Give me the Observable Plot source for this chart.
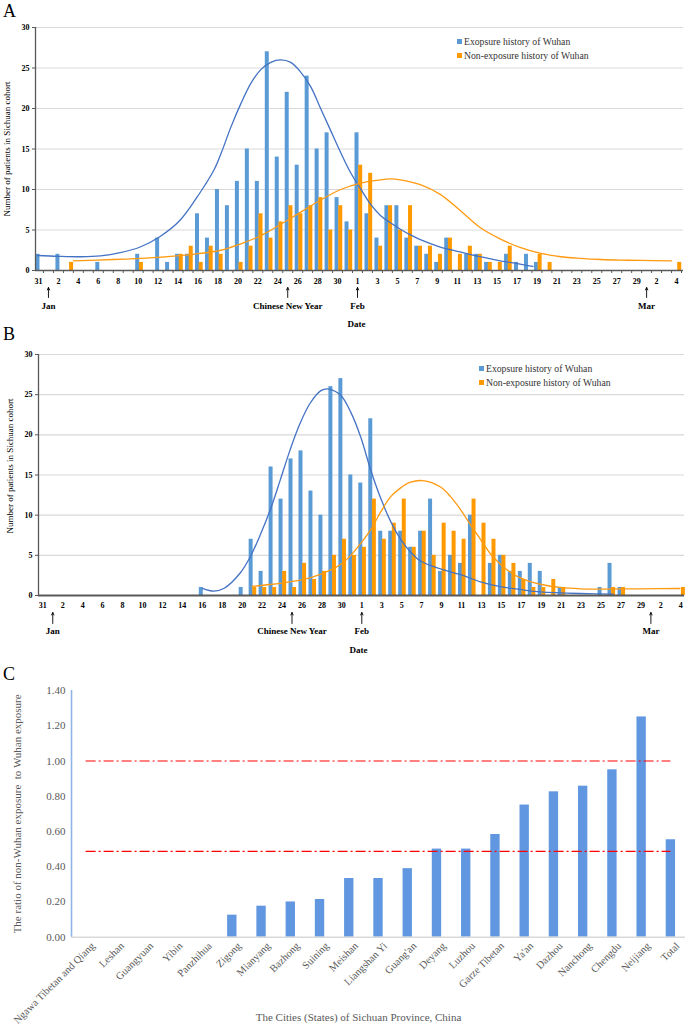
<!DOCTYPE html>
<html><head><meta charset="utf-8">
<script src="https://cdn.jsdelivr.net/npm/d3@7"></script>
<script src="https://cdn.jsdelivr.net/npm/@observablehq/plot@0.6"></script>
<style>
body{margin:0;background:#fff;}
#wrap{position:relative;width:685px;height:1028px;overflow:hidden;font-family:"Liberation Serif","Times New Roman",serif;}
#wrap svg{position:absolute;left:0;}
.letter{position:absolute;font-size:18px;color:#000;line-height:1;}
.leg{position:absolute;font-size:9.7px;color:#333;line-height:14px;white-space:nowrap;}
.leg span.sw{display:inline-block;width:5px;height:5px;margin-right:2px;vertical-align:1px;}
</style></head><body><div id="wrap"></div>
<script>
// ---------- DATA ----------
// day offsets: 0 = Dec 31 2019 ... 64 = Mar 4 2020
const dayIndex = d3.range(0, 65);
const labelDays = d3.range(0, 65, 2);
const yTicksCount = [0, 5, 10, 15, 20, 25, 30];
const eventDays = [1, 25, 32, 61];
const eventLabels = ["Jan", "Chinese New Year", "Feb", "Mar"];
const seriesNames = ["Exopsure history of Wuhan", "Non-exposure history of Wuhan"];

// Panel A counts
const blueA = [2,0,2,0,0,0,1,0,0,0, 2,0,4,1,2,2,7,4,10,8, 11,15,11,27,14,22,13,24,15,17, 9,6,17,7,4,8,8,4,3,2, 1,4,0,2,2,1,0,2,1,2, 1,0,0,0,0,0,0,0,0,0, 0,0,0,0,0];
const orangeA = [0,0,0,1,0,0,0,0,0,0, 1,0,0,0,2,3,1,3,2,0, 1,3,7,4,6,8,7,8,9,5, 8,5,13,12,3,8,5,8,3,3, 2,4,2,3,2,1,1,3,0,0, 2,1,0,0,0,0,0,0,0,0, 0,0,0,0,1];
// Panel A fitted curves [day, value]
const blueCurveA = [[-0.1,1.85],[2,1.75],[4.2,1.7],[6.2,1.8],[8.2,2.2],[10.2,2.9],[12.2,4.2],[14.2,6.2],[16.2,9.6],[17.6,12.4],[18.3,14.4],[19.3,17.7],[20.3,20.6],[21.3,23.1],[22.3,24.8],[23.3,25.7],[24.3,26.0],[25.3,25.7],[26.3,24.5],[27.3,22.7],[28.3,20.0],[29.3,17.3],[30.3,14.6],[31.3,12.1],[32.3,10.1],[33.3,8.2],[34.3,6.8],[35.3,5.9],[36.3,5.1],[37.3,4.4],[38.3,3.8],[40.3,2.9],[42.3,2.3],[44.3,1.7],[46.3,1.2],[48.3,0.8],[49.6,0.5]];
const orangeCurveA = [[3.5,1.2],[7.5,1.36],[11.5,1.6],[15.5,2.0],[18.3,2.5],[20.3,3.3],[22.3,4.3],[24.3,5.7],[26.3,7.2],[28.3,8.7],[30.3,10.0],[32.3,10.8],[34.3,11.2],[35.3,11.3],[36.3,11.2],[38.3,10.6],[40.3,9.4],[42.3,7.4],[44.3,5.3],[46.3,3.9],[48.3,2.85],[50.4,2.1],[52.4,1.7],[54.4,1.5],[56.4,1.36],[58.4,1.28],[60.4,1.24],[63.5,1.2]];

// Panel B counts
const blueB = [0,0,0,0,0,0,0,0,0,0, 0,0,0,0,0,0,1,0,0,0, 1,7,3,16,12,17,18,13,10,26, 27,15,14,22,8,8,8,6,8,12, 3,5,4,10,0,4,5,3,3,4, 3,0,1,0,0,0,1,4,1,0, 0,0,0,0,0];
const orangeB = [0,0,0,0,0,0,0,0,0,0, 0,0,0,0,0,0,0,0,0,0, 0,1,1,1,3,1,4,2,3,5, 7,5,6,12,7,9,12,6,8,5, 9,8,7,12,9,7,5,4,2,1, 1,2,1,0,0,0,0,1,1,0, 0,0,0,0,1];
const blueCurveB = [[16,0.9],[17.2,0.55],[18.2,0.9],[19.8,2.8],[20.8,4.8],[21.8,7.5],[22.8,10.6],[23.8,14.3],[24.8,18.1],[25.8,21.4],[26.8,23.9],[27.9,25.5],[28.7,25.7],[29.9,24.9],[30.9,22.8],[31.9,19.7],[32.9,15.6],[33.9,12.1],[34.9,9.2],[35.9,7.0],[36.9,5.4],[37.9,4.3],[39.9,3.3],[41.9,2.6],[43.9,1.7],[45.9,1.1],[47.9,0.75],[49.9,0.45],[51.9,0.33],[53.9,0.25],[57.2,0.17]];
const orangeCurveB = [[21.0,1.15],[22.8,1.37],[24.8,1.7],[26.8,2.2],[28.9,3.2],[29.9,3.9],[30.9,5.0],[31.9,6.5],[32.9,8.2],[33.9,10.4],[34.9,12.3],[35.9,13.4],[36.9,14.1],[38.1,14.3],[39.9,13.5],[40.9,12.3],[41.9,10.7],[42.9,8.8],[43.9,7.0],[44.9,5.2],[45.9,3.9],[46.9,2.9],[47.9,2.2],[49.9,1.4],[51.9,1.0],[53.9,0.83],[55.9,0.8],[59.9,0.83],[63.9,0.87]];

// Panel C
const cities = ["Ngawa Tibetan and Qiang","Leshan","Guangyuan","Yibin","Panzhihua","Zigong","Mianyang","Bazhong","Suining","Meishan","Liangshan Yi","Guang'an","Deyang","Luzhou","Garze Tibetan","Ya'an","Dazhou","Nanchong","Chengdu","Neijiang","Total"];
const ratios = [0,0,0,0,0,0.125,0.176,0.2,0.214,0.333,0.333,0.389,0.5,0.5,0.583,0.75,0.825,0.857,0.95,1.25,0.553];
const refLines = [1.0, 0.487];
const yTicksC = [0, 0.2, 0.4, 0.6, 0.8, 1.0, 1.2, 1.4];

// ---------- STYLE ----------
const FONT = '"Liberation Serif","Times New Roman",serif';
const BLUE = "#5b9bd5", ORANGE = "#ff9900", BLUE_LINE = "#4472c4", ORANGE_LINE = "#ff9a10", AXIS = "#595959";
const dayLabel = d => String(new Date(2019, 11, 31 + d).getDate());

function timeline(o) {
  const rows = dayIndex.map(i => ({d: i, b: o.blue[i], r: o.orange[i]}));
  const pts = arr => arr.map(([d, v]) => ({d, v}));
  const pxPerUnit = (o.height - o.mt - o.mb) / 30;
  const below = px => -px / pxPerUnit; // offset below the baseline, in count units
  return Plot.plot({
    width: o.width, height: o.height,
    marginTop: o.mt, marginBottom: o.mb, marginLeft: o.ml, marginRight: o.mr,
    x: {type: "linear", domain: o.xdom, axis: null, label: null},
    y: {domain: [0, 30], axis: null, label: null},
    style: {fontFamily: FONT, background: "transparent", overflow: "visible", color: "#000"},
    marks: [
      Plot.gridY(yTicksCount.slice(1), {stroke: "#d9d9d9", strokeOpacity: 1, strokeWidth: 1.2}),
      Plot.rect(rows.filter(r => r.b > 0), {x1: r => r.d + o.bOff[0], x2: r => r.d + o.bOff[1], y1: 0, y2: "b", fill: BLUE}),
      Plot.rect(rows.filter(r => r.r > 0), {x1: r => r.d + o.oOff[0], x2: r => r.d + o.oOff[1], y1: 0, y2: "r", fill: ORANGE}),
      Plot.line(pts(o.blueCurve), {x: "d", y: "v", stroke: BLUE_LINE, strokeWidth: 1.3, curve: "catmull-rom"}),
      Plot.line(pts(o.orangeCurve), {x: "d", y: "v", stroke: ORANGE_LINE, strokeWidth: 1.3, curve: "catmull-rom"}),
      Plot.ruleX([o.xdom[0]], {y1: 0, y2: 30, stroke: AXIS, strokeWidth: 1.3}),
      Plot.ruleY([0], {stroke: AXIS, strokeWidth: o.xAxisW}),
      Plot.axisY({ticks: yTicksCount, tickSize: 3, tickPadding: 3, fontSize: 8, fontWeight: "bold", stroke: AXIS, label: null}),
      o.minor ? Plot.axisX({ticks: dayIndex.map(d => d + 0.5), tickSize: 3, tickFormat: () => "", stroke: AXIS, label: null}) : null,
      Plot.axisX({ticks: labelDays, tickSize: 0, tickPadding: o.tp, tickFormat: dayLabel, fontSize: 8, fontWeight: "bold", label: null}),
      Plot.arrow(eventDays, {x1: d => d, x2: d => d, y1: below(o.arrowPx[1]), y2: below(o.arrowPx[0]), stroke: "#000", strokeWidth: 0.9, headLength: 4.5, headAngle: 50}),
      Plot.text(eventDays, {x: d => d, text: (d, i) => eventLabels[i], frameAnchor: "bottom", lineAnchor: "middle", dy: o.labelDy, fontSize: 9, fontWeight: "bold"}),
      Plot.text(["Date"], {text: d => d, frameAnchor: "bottom", lineAnchor: "middle", dy: o.dateDy, dx: -3, fontSize: 9, fontWeight: "bold"}),
      Plot.text(["Number of patients in Sichuan cohort"], {text: d => d, frameAnchor: "left", textAnchor: "middle", lineAnchor: "middle", rotate: -90, dx: o.titleDx, dy: o.titleDy, fontSize: 9})
    ]
  });
}

const wrap = document.getElementById("wrap");

const svgA = timeline({
  blue: blueA, orange: orangeA, blueCurve: blueCurveA, orangeCurve: orangeCurveA,
  width: 685, height: 330, mt: 27, mb: 60, ml: 35, mr: 2, xdom: [-0.3, 64.7],
  bOff: [-0.25, 0.15], oOff: [0.12, 0.52], minor: true, xAxisW: 1.6,
  tp: 8, arrowPx: [17, 27], labelDy: 36, dateDy: 54, titleDx: -28, titleDy: 0
});
svgA.style.top = "0px";
wrap.appendChild(svgA);

const svgB = timeline({
  blue: blueB, orange: orangeB, blueCurve: blueCurveB, orangeCurve: orangeCurveB,
  width: 685, height: 330, mt: 24, mb: 65, ml: 38, mr: 1, xdom: [-0.43, 64.37],
  bOff: [-0.3, 0.1], oOff: [0.06, 0.46], minor: false, xAxisW: 2.2,
  tp: 7, arrowPx: [17, 28], labelDy: 36, dateDy: 55, titleDx: -28, titleDy: -9
});
svgB.style.top = "330px";
wrap.appendChild(svgB);

const cityRows = cities.map((c, i) => ({i, c, v: ratios[i]}));
const svgC = Plot.plot({
  width: 685, height: 368, marginTop: 30, marginBottom: 91.3, marginLeft: 71, marginRight: 0,
  x: {type: "linear", domain: [-0.5, cities.length - 0.5], axis: null, label: null},
  y: {domain: [0, 1.4], axis: null, label: null},
  style: {fontFamily: FONT, background: "transparent", overflow: "visible", color: "#595959"},
  marks: [
    Plot.rect(cityRows.filter(d => d.v > 0), {x1: d => d.i - 0.16, x2: d => d.i + 0.16, y1: 0, y2: "v", fill: "#6097e0"}),
    Plot.ruleY(refLines, {x1: 0, x2: cities.length - 1, stroke: "#ff0000", strokeWidth: 1.2, strokeDasharray: "10,3,2,3"}),
    Plot.ruleY([0], {stroke: "#d9d9d9", strokeWidth: 1.6}),
    Plot.ruleX([-0.5], {y1: 0, y2: 1.4, stroke: "#8fb4e6", strokeWidth: 1.6}),
    Plot.axisY({ticks: yTicksC, tickFormat: d3.format(".2f"), tickSize: 0, tickPadding: 6, fontSize: 11, label: null}),
    Plot.axisX({ticks: d3.range(cities.length), tickFormat: i => cities[i], tickRotate: -45, tickSize: 0, tickPadding: 4, dx: 7, dy: 3, fontSize: 10.5, label: null}),
    Plot.text(["The ratio of non-Wuhan exposure  to Wuhan exposure"], {text: d => d, frameAnchor: "left", textAnchor: "middle", lineAnchor: "middle", rotate: -90, dx: -54, fontSize: 11, fill: "#595959"}),
    Plot.text(["The Cities (States) of Sichuan Province, China"], {text: d => d, frameAnchor: "bottom", lineAnchor: "middle", dy: 80, dx: -20, fontSize: 11, fill: "#595959"})
  ]
});
svgC.style.top = "660px";
wrap.appendChild(svgC);

// panel letters
[["A", 2], ["B", 325], ["C", 665]].forEach(([t, top]) => {
  const el = document.createElement("div");
  el.className = "letter"; el.textContent = t;
  el.style.left = "3px"; el.style.top = top + "px";
  wrap.appendChild(el);
});

// legends
function legend(left, top) {
  const el = document.createElement("div");
  el.className = "leg"; el.style.left = left + "px"; el.style.top = top + "px";
  el.innerHTML = seriesNames.map((n, i) =>
    `<div><span class="sw" style="background:${i ? ORANGE : BLUE}"></span>${n}</div>`).join("");
  wrap.appendChild(el);
}
legend(457, 35);
legend(479, 362);
</script></body></html>
